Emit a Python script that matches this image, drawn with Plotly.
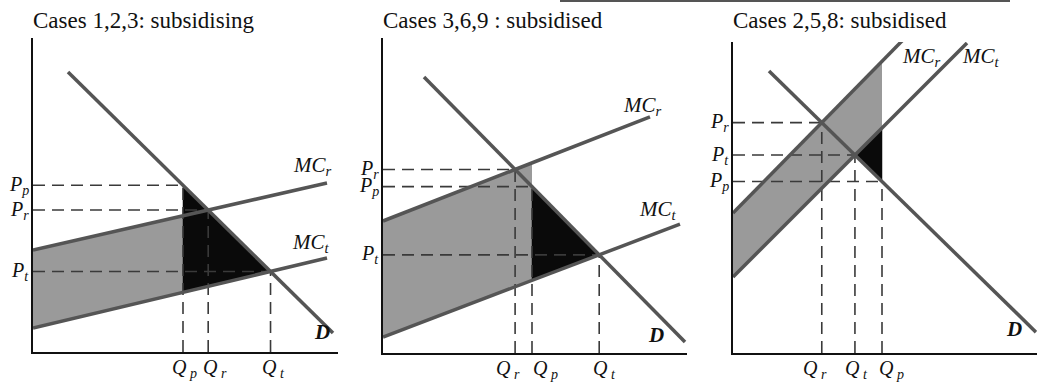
import numpy as np
import plotly.graph_objects as go

FIG_W, FIG_H = 1039, 384
SERIF = "Liberation Serif, Times New Roman, serif"

# ---------------- data (one entry per panel) ----------------
titles = ["Cases 1,2,3: subsidising", "Cases 3,6,9 : subsidised", "Cases 2,5,8: subsidised"]

# demand curve D: price = intercept + slope * quantity, drawn between x-start and x-end
D_int = [314.5, 317.6, 317.2]
D_slope = [-0.985, -1.015, -0.978]
D_xstart = [35, 41, 36]
D_xend = [300, 302, 303]

# marginal cost, regulated (MC_r) and true (MC_t)
MCr_int = [102, 132, 140]
MCr_slope = [0.228, 0.39, 1.018]
MCr_xend = [294, 267, 170]
MCt_int = [24, 16, 76]
MCt_slope = [0.238, 0.38, 1.0]
MCt_xend = [294, 297, 234]

# quantity under the policy price
Q_policy = [150, 149, 149]

# label texts
P_labels = {"p": "<i>P<sub>p</sub></i>", "r": "<i>P<sub>r</sub></i>", "t": "<i>P<sub>t</sub></i>"}
Q_labels = {"p": "<i>Q<sub> p</sub></i>", "r": "<i>Q<sub> r</sub></i>", "t": "<i>Q<sub> t</sub></i>"}

# ---------------- layout geometry (pixels) ----------------
panel_x0 = [33, 383, 733]      # y-axis position
panel_y0 = [352, 353, 353]     # x-axis position
axis_w = [305, 304, 304]
axis_h = [314, 315, 311]
# horizontal nudges of the Q labels relative to their guide line (p, r, t)
q_nudge = [{"p": 1, "r": 7, "t": 3}, {"p": 13, "r": -7, "t": 5}, {"p": 9, "r": -7, "t": 2}]
# curve-label positions (data units within each panel)
lab_MCr = [(279, 186), (259, 247), (188, 296)]
lab_MCt = [(278, 109), (275, 143), (248, 296)]
lab_D = [(289, 20), (273, 18), (281, 24)]

GRAY_FILL = "#9a9a9a"
BLACK_FILL = "#0a0a0a"
CURVE = "#555555"
DASH = "#3a3a3a"
TXT = "#111111"

fig = go.Figure()
annotations = []


def cross(a1, b1, a2, b2):
    x = (a2 - a1) / (b1 - b2)
    return x, a1 + b1 * x


for i in range(3):
    xa = "x" if i == 0 else f"x{i+1}"
    ya = "y" if i == 0 else f"y{i+1}"
    D = lambda q, i=i: D_int[i] + D_slope[i] * q
    MCr = lambda q, i=i: MCr_int[i] + MCr_slope[i] * q
    MCt = lambda q, i=i: MCt_int[i] + MCt_slope[i] * q

    Qp = Q_policy[i]
    Pp = D(Qp)
    Qr, Pr = cross(D_int[i], D_slope[i], MCr_int[i], MCr_slope[i])
    Qt, Pt = cross(D_int[i], D_slope[i], MCt_int[i], MCt_slope[i])

    # gray region between MC_r and MC_t up to Qp
    gx = [0, Qp, Qp, 0, 0]
    gy = [MCr(0), MCr(Qp), MCt(Qp), MCt(0), MCr(0)]
    fig.add_trace(go.Scatter(x=gx, y=gy, fill="toself", fillcolor=GRAY_FILL, mode="lines",
                             line=dict(width=0), xaxis=xa, yaxis=ya, hoverinfo="skip"))
    # black triangle: between D and MC_t from Qp to Qt
    bx = [Qp, Qt, Qp, Qp]
    by = [Pp, Pt, MCt(Qp), Pp]
    fig.add_trace(go.Scatter(x=bx, y=by, fill="toself", fillcolor=BLACK_FILL, mode="lines",
                             line=dict(width=0.5, color=BLACK_FILL), xaxis=xa, yaxis=ya, hoverinfo="skip"))

    # dashed guide lines
    guides = [
        ([0, Qp], [Pp, Pp]), ([0, Qr], [Pr, Pr]), ([0, Qt], [Pt, Pt]),
        ([Qp, Qp], [0, Pp]), ([Qr, Qr], [0, Pr]), ([Qt, Qt], [0, Pt]),
    ]
    for gxs, gys in guides:
        fig.add_trace(go.Scatter(x=gxs, y=gys, mode="lines",
                                 line=dict(color=DASH, width=1.6, dash="12px,7px"),
                                 xaxis=xa, yaxis=ya, hoverinfo="skip"))

    # curves
    for xs, fn in [((D_xstart[i], D_xend[i]), D), ((0, MCr_xend[i]), MCr), ((0, MCt_xend[i]), MCt)]:
        fig.add_trace(go.Scatter(x=list(xs), y=[fn(xs[0]), fn(xs[1])], mode="lines",
                                 line=dict(color=CURVE, width=3.5),
                                 xaxis=xa, yaxis=ya, hoverinfo="skip"))

    # axes
    xd = [panel_x0[i] / FIG_W, (panel_x0[i] + axis_w[i]) / FIG_W]
    yd = [(FIG_H - panel_y0[i]) / FIG_H, (FIG_H - panel_y0[i] + axis_h[i]) / FIG_H]
    xkey = "xaxis" if i == 0 else f"xaxis{i+1}"
    ykey = "yaxis" if i == 0 else f"yaxis{i+1}"
    fig.update_layout(**{
        xkey: dict(domain=xd, range=[0, axis_w[i]], anchor=ya, showgrid=False, zeroline=False,
                   showline=True, linecolor=TXT, linewidth=2.2, ticks="", showticklabels=False,
                   fixedrange=True),
        ykey: dict(domain=yd, range=[0, axis_h[i]], anchor=xa, showgrid=False, zeroline=False,
                   showline=True, linecolor=TXT, linewidth=2.2, ticks="", showticklabels=False,
                   fixedrange=True),
    })

    # price labels, right of them the y axis
    for key, val in [("p", Pp), ("r", Pr), ("t", Pt)]:
        annotations.append(dict(text=P_labels[key], xref=xa, yref=ya, x=0, y=val, xshift=-2, yshift=0,
                                xanchor="right", yanchor="middle", showarrow=False,
                                font=dict(family=SERIF, size=20, color=TXT)))
    # quantity labels below the x axis
    for key, val in [("p", Qp), ("r", Qr), ("t", Qt)]:
        annotations.append(dict(text=Q_labels[key], xref=xa, yref=ya, x=val, y=0,
                                xshift=q_nudge[i][key], yshift=-2,
                                xanchor="center", yanchor="top", showarrow=False,
                                font=dict(family=SERIF, size=20, color=TXT)))

    # title
    annotations.append(dict(text=titles[i], xref="paper", yref="paper",
                            x=(panel_x0[i] - 2) / FIG_W, y=(FIG_H - 20) / FIG_H,
                            xanchor="left", yanchor="middle", showarrow=False,
                            font=dict(family=SERIF, size=23, color=TXT)))
    for (lx, ly), txt in [(lab_MCr[i], "<i>MC<sub>r</sub></i>"), (lab_MCt[i], "<i>MC<sub>t</sub></i>"),
                          (lab_D[i], "<b><i>D</i></b>")]:
        annotations.append(dict(text=txt, xref=xa, yref=ya, x=lx, y=ly, showarrow=False,
                                xanchor="center", yanchor="middle",
                                font=dict(family=SERIF, size=21, color=TXT)))

fig.update_layout(
    width=FIG_W, height=FIG_H, margin=dict(l=0, r=0, t=0, b=0),
    paper_bgcolor="white", plot_bgcolor="white", showlegend=False,
    annotations=annotations,
    shapes=[dict(type="line", xref="paper", yref="paper", x0=560 / FIG_W, x1=1010 / FIG_W,
                 y0=(FIG_H - 1) / FIG_H, y1=(FIG_H - 1) / FIG_H, line=dict(color="#555", width=2))],
)

fig.write_html("out.html", config={"displayModeBar": False},
               post_script="document.body.style.margin='0px';")
